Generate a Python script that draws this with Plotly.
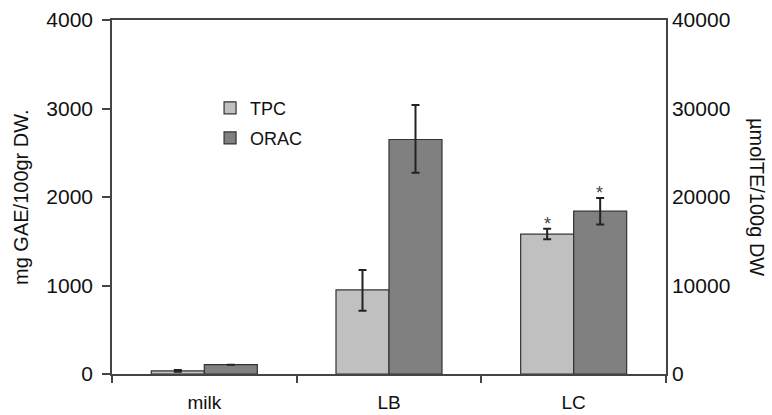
import plotly.graph_objects as go

categories = ["milk", "LB", "LC"]
tpc_values = [35, 950, 1580]
tpc_err_plus = [10, 225, 60]
tpc_err_minus = [10, 235, 58]
orac_values = [1050, 26500, 18400]
orac_err_plus = [0, 3900, 1500]
orac_err_minus = [0, 3750, 1500]
star_flags = [False, False, True]

FONT = "Liberation Sans, Arial, sans-serif"
AXC = "#444444"

fig = go.Figure()
fig.add_trace(go.Bar(
    x=categories, y=tpc_values, name="TPC", offsetgroup="1", yaxis="y",
    marker=dict(color="#c0c0c0", line=dict(color="#333333", width=1.2)),
    error_y=dict(type="data", array=tpc_err_plus, arrayminus=tpc_err_minus,
                 color="#222222", thickness=2, width=4),
    legend="legend",
))
fig.add_trace(go.Bar(
    x=categories, y=orac_values, name="ORAC", offsetgroup="2", yaxis="y2",
    marker=dict(color="#808080", line=dict(color="#333333", width=1.2)),
    error_y=dict(type="data", array=orac_err_plus, arrayminus=orac_err_minus,
                 color="#222222", thickness=2, width=4),
    legend="legend2",
))

# significance stars above the LC error bars
for i, c in enumerate(categories):
    if star_flags[i]:
        fig.add_annotation(x=c, y=tpc_values[i] + tpc_err_plus[i], xref="x", yref="y",
                           text="*", showarrow=False, xshift=-26, yanchor="bottom", yshift=-7,
                           font=dict(family=FONT, size=18, color="#444444"))
        fig.add_annotation(x=c, y=orac_values[i] + orac_err_plus[i], xref="x", yref="y2",
                           text="*", showarrow=False, xshift=26, yanchor="bottom", yshift=-7,
                           font=dict(family=FONT, size=18, color="#444444"))

# axis titles (right one reads top-to-bottom as in the reference)
fig.add_annotation(text="mg GAE/100gr DW.", xref="paper", yref="paper", x=0, y=0.5,
                   xanchor="center", yanchor="middle", xshift=-91, textangle=-90,
                   showarrow=False, font=dict(family=FONT, size=20, color="#111111"))
fig.add_annotation(text="µmolTE/100g DW", xref="paper", yref="paper", x=1, y=0.5,
                   xanchor="center", yanchor="middle", xshift=91, textangle=90,
                   showarrow=False, font=dict(family=FONT, size=20, color="#111111"))

fig.update_layout(
    width=772, height=415,
    margin=dict(l=112, r=106, t=20, b=41),
    paper_bgcolor="white", plot_bgcolor="white",
    font=dict(family=FONT, color="#111111"),
    barmode="group", bargap=0.426, bargroupgap=0,
    xaxis=dict(
        type="category", showline=True, linecolor=AXC, linewidth=1.5, mirror=True,
        ticks="outside", tickson="boundaries", ticklen=7, tickcolor=AXC, tickwidth=1.5,
        showgrid=False, tickfont=dict(size=19), zeroline=False,
        ticklabelstandoff=10, automargin=False,
    ),
    yaxis=dict(
        range=[0, 4000], dtick=1000, showline=True, linecolor=AXC, linewidth=1.5,
        ticks="outside", ticklen=8, tickcolor=AXC, tickwidth=1.5, showgrid=False,
        zeroline=False, tickfont=dict(size=21), ticklabelstandoff=5, automargin=False,
    ),
    yaxis2=dict(
        range=[0, 40000], dtick=10000, overlaying="y", side="right", tickformat="d",
        showline=True, linecolor=AXC, linewidth=1.5, ticks="", showgrid=False,
        zeroline=False, tickfont=dict(size=21), automargin=False,
    ),
    legend=dict(x=0.177, y=0.751, xanchor="left", yanchor="middle",
                bgcolor="rgba(0,0,0,0)", font=dict(size=18), itemwidth=30),
    legend2=dict(x=0.177, y=0.666, xanchor="left", yanchor="middle",
                 bgcolor="rgba(0,0,0,0)", font=dict(size=18), itemwidth=30),
    showlegend=True,
)

fig.write_html("out.html")
